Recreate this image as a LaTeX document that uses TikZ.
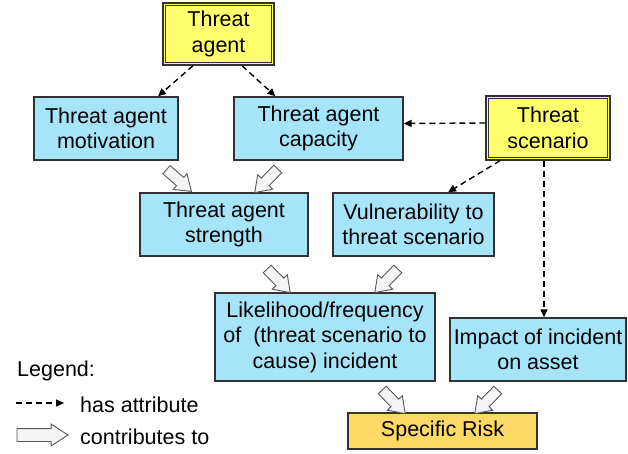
\documentclass[tikz,border=0pt]{standalone}
\usepackage{fontspec}
\setmainfont{Liberation Sans}
\usetikzlibrary{shapes.arrows,arrows.meta}
\definecolor{ylw}{RGB}{255,255,110}
\definecolor{blu}{RGB}{166,228,250}
\definecolor{org}{RGB}{255,217,102}
\definecolor{edge}{RGB}{50,50,50}
\tikzset{
  box/.style={draw=edge, line width=1.4pt, inner sep=0pt, align=center,
    font=\fontsize{21.5}{25.5}\selectfont},
  bluebox/.style={box, fill=blu},
  ylwbox/.style={box, fill=ylw},
  riskbox/.style={box, fill=org},
  dasharrow/.style={draw=black, line width=1.4pt, dash pattern=on 6pt off 4pt,
    -{Triangle[length=8pt,width=7pt]}},
  barrow/.style={single arrow, draw=gray!70!black, fill=gray!8, line width=0.9pt,
    inner sep=5pt, minimum height=33pt, single arrow head extend=5pt,
    single arrow tip angle=70, sloped, allow upside down},
  legtext/.style={anchor=west, inner sep=0pt, font=\fontsize{21.5}{25.5}\selectfont}
}
\begin{document}
\begin{tikzpicture}[x=1pt,y=-1pt]
\useasboundingbox (0,0) rectangle (628,454);
% boxes
\node[ylwbox, minimum width=111pt, minimum height=62pt] (ta) at (218.5,34) {Threat\\agent};
\node[bluebox, minimum width=144pt, minimum height=63pt] (mot) at (106,128.5) {Threat agent\\motivation};
\node[bluebox, minimum width=169pt, minimum height=63pt] (cap) at (318.5,128.5) {Threat agent\\capacity};
\node[ylwbox, minimum width=124pt, minimum height=64pt] (ts) at (548,128) {Threat\\scenario};
\node[bluebox, minimum width=168pt, minimum height=63pt] (str) at (224,224.5) {Threat agent\\strength};
\node[bluebox, minimum width=161pt, minimum height=63pt] (vul) at (413.5,224.5) {Vulnerability to\\threat scenario};
\node[bluebox, minimum width=220pt, minimum height=88pt] (lik) at (325,337) {Likelihood/frequency\\of\ \ (threat scenario to\\cause) incident};
\node[bluebox, minimum width=176pt, minimum height=63pt] (imp) at (538,349.5) {Impact of incident\\on asset};
\node[riskbox, minimum width=189pt, minimum height=36pt] (risk) at (442.5,431) {Specific Risk};
% double borders
\draw[edge, line width=1pt] ([shift={(3.5pt,-3.5pt)}]ta.north west) rectangle ([shift={(-3.5pt,3.5pt)}]ta.south east);
\draw[edge, line width=1pt] ([shift={(3.5pt,-3.5pt)}]ts.north west) rectangle ([shift={(-3.5pt,3.5pt)}]ts.south east);
% dashed arrows
\draw[dasharrow] ([xshift=-25.5pt]ta.south) -- ([xshift=52pt]mot.north);
\draw[dasharrow] ([xshift=23.5pt]ta.south) -- ([xshift=-43pt]cap.north);
\draw[dasharrow] ([yshift=5pt]ts.west) -- ([yshift=5pt]cap.east);
\draw[dasharrow] ([xshift=-48pt]ts.south) -- ([xshift=34.5pt]vul.north);
\draw[dasharrow] ([xshift=-4pt]ts.south) -- ([xshift=6pt]imp.north);
% block arrows
\path ([shift={(57pt,-6pt)}]mot.south) -- node[barrow]{} ([shift={(-35pt,3pt)}]str.north);
\path ([shift={(-38.5pt,-6pt)}]cap.south) -- node[barrow]{} ([shift={(34pt,3pt)}]str.north);
\path ([shift={(41pt,-10pt)}]str.south) -- node[barrow]{} ([shift={(-38pt,3pt)}]lik.north);
\path ([shift={(-13.5pt,-10pt)}]vul.south) -- node[barrow]{} ([shift={(53pt,3pt)}]lik.north);
\path ([shift={(55pt,-6pt)}]lik.south) -- node[barrow]{} ([shift={(-40.5pt,2pt)}]risk.north);
\path ([shift={(-38pt,-6pt)}]imp.south) -- node[barrow]{} ([shift={(35.5pt,2pt)}]risk.north);
% legend
\node[legtext] (leg) at (17,371) {Legend:};
\coordinate (la) at (16,403);
\coordinate (lb) at (64,403);
\draw[dasharrow] (la) -- (lb);
\node[legtext] (lt1) at (80,405) {has attribute};
\coordinate (lc) at (12,435);
\coordinate (ld) at (63,435);
\path (lc) -- node[barrow, minimum height=51pt, inner sep=6pt, single arrow head extend=4.5pt, single arrow tip angle=66]{} (ld);
\node[legtext] (lt2) at (80,437) {contributes to};
\end{tikzpicture}
\end{document}
